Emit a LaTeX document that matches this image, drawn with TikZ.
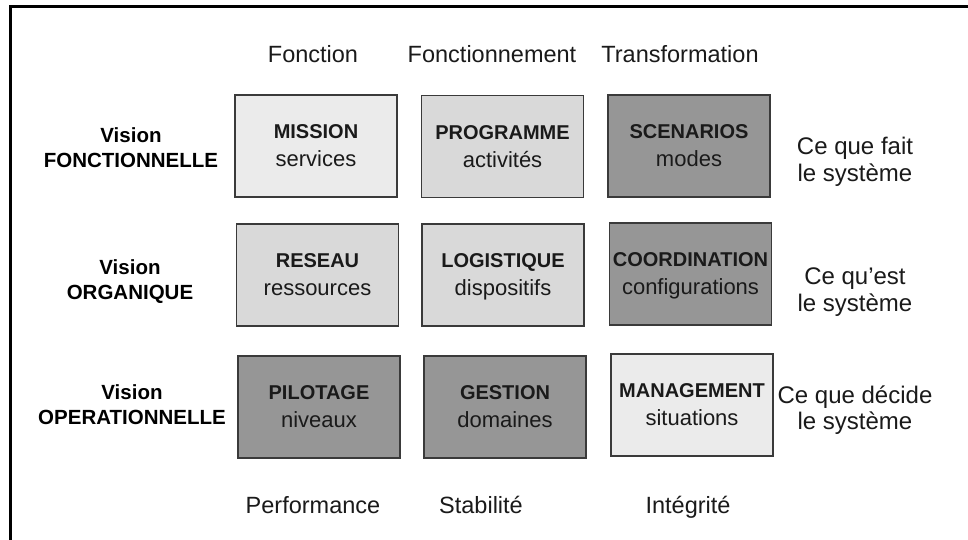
\documentclass[tikz,border=0pt]{standalone}
\usepackage{fontspec}
\setmainfont{Liberation Sans}
\definecolor{boxlight}{HTML}{EBEBEB}
\definecolor{boxmid}{HTML}{D9D9D9}
\definecolor{boxdark}{HTML}{969696}
\definecolor{boxline}{HTML}{3A3A3A}
\definecolor{txt}{HTML}{1A1A1A}
\begin{document}
\begin{tikzpicture}[x=1pt,y=-1pt,
  cell/.style={draw=boxline,line width=1.1pt,minimum width=162pt,minimum height=102pt,
    inner sep=0pt,align=center,text depth=0pt,text=txt,font=\fontsize{22}{28}\selectfont},
  head/.style={anchor=base,text=txt,inner sep=0pt,font=\fontsize{23.5}{28}\selectfont},
  vision/.style={align=center,text depth=0pt,inner sep=0pt,text=black,font=\bfseries\fontsize{20.5}{25}\selectfont},
  what/.style={align=center,text depth=0pt,inner sep=0pt,text=txt,font=\fontsize{24}{26.5}\selectfont}]
\useasboundingbox (0,0) rectangle (968,540);
\fill[white] (0,0) rectangle (968,540);
% frame
\coordinate (fbl) at (10.5,540);
\coordinate (ftl) at (10.5,7);
\coordinate (ftr) at (968,7);
\draw[line width=3pt] (fbl) -- (ftl) -- (ftr);
% column headers
\node[head] (h1) at (313,63) {Fonction};
\node[head] (h2) at (492,63) {Fonctionnement};
\node[head] (h3) at (680,63) {Transformation};
% bottom labels
\node[head] (b1) at (313,513) {Performance};
\node[head] (b2) at (481,513) {Stabilité};
\node[head] (b3) at (688,513) {Intégrité};
% row labels
\node[vision] (v1) at (131,148) {Vision\\FONCTIONNELLE};
\node[vision] (v2) at (130,280) {Vision\\ORGANIQUE};
\node[vision] (v3) at (132,405) {Vision\\OPERATIONNELLE};
% boxes
\node[cell,fill=boxlight] (c11) at (316,146) {{\bfseries\fontsize{20}{28}\selectfont MISSION}\\services};
\node[cell,fill=boxmid]   (c12) at (502.5,146.5) {{\bfseries\fontsize{20}{28}\selectfont PROGRAMME}\\activités};
\node[cell,fill=boxdark]  (c13) at (689,146) {{\bfseries\fontsize{20}{28}\selectfont SCENARIOS}\\modes};
\node[cell,fill=boxmid]   (c21) at (317.5,275) {{\bfseries\fontsize{20}{28}\selectfont RESEAU}\\ressources};
\node[cell,fill=boxmid]   (c22) at (503,275) {{\bfseries\fontsize{20}{28}\selectfont LOGISTIQUE}\\dispositifs};
\node[cell,fill=boxdark]  (c23) at (690.5,274) {{\bfseries\fontsize{20}{28}\selectfont COORDINATION}\\configurations};
\node[cell,fill=boxdark]  (c31) at (319,407) {{\bfseries\fontsize{20}{28}\selectfont PILOTAGE}\\niveaux};
\node[cell,fill=boxdark]  (c32) at (505,407) {{\bfseries\fontsize{20}{28}\selectfont GESTION}\\domaines};
\node[cell,fill=boxlight] (c33) at (692,405) {{\bfseries\fontsize{20}{28}\selectfont MANAGEMENT}\\situations};
% right labels
\node[what] (w1) at (855,159.5) {Ce que fait\\le système};
\node[what] (w2) at (855,289.5) {Ce qu’est\\le système};
\node[what] (w3) at (855,407.5) {Ce que décide\\le système};
\end{tikzpicture}
\end{document}
